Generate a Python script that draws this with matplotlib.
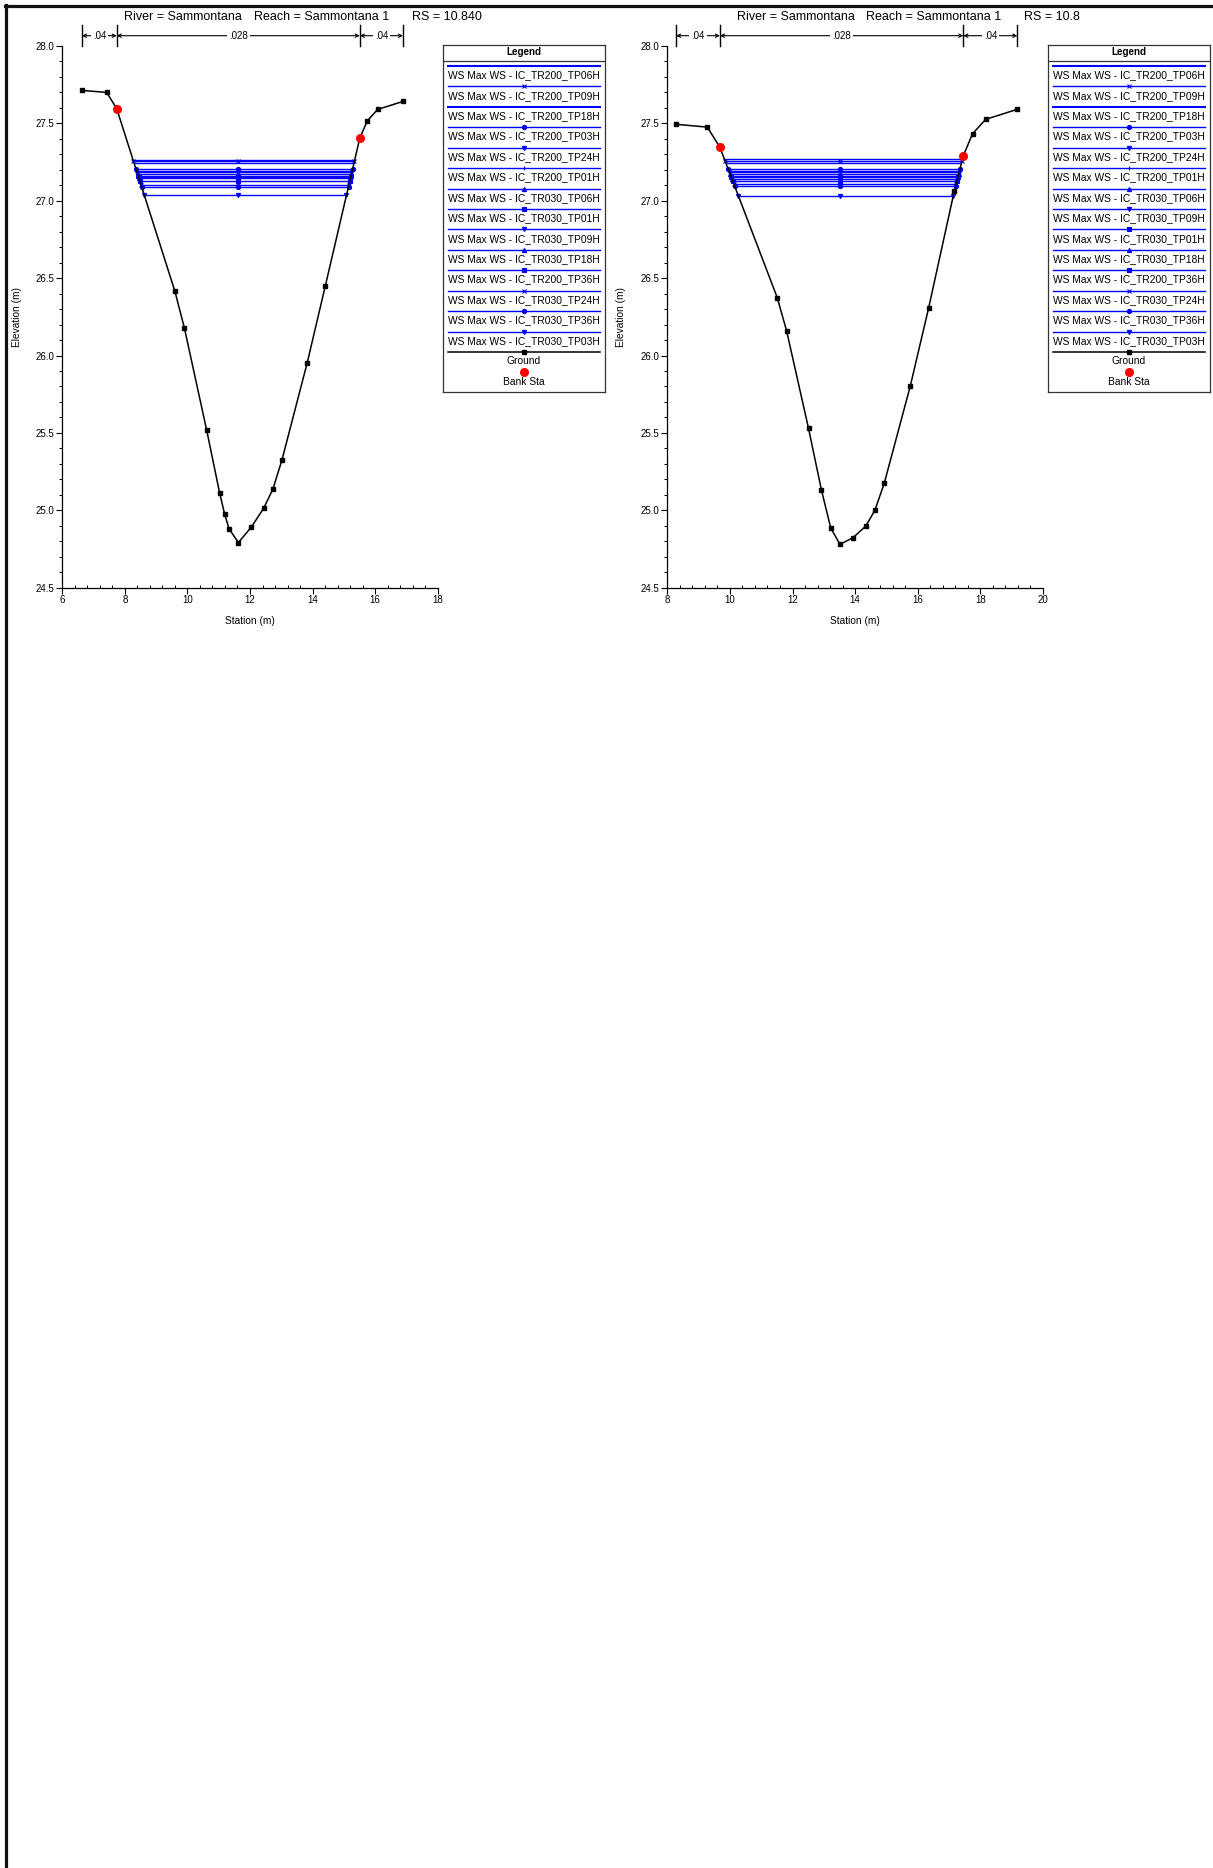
import numpy as np
import matplotlib
matplotlib.use("Agg")
import matplotlib.pyplot as plt
from matplotlib.lines import Line2D
from matplotlib.transforms import blended_transform_factory

plt.rcParams['font.family'] = ['Liberation Sans', 'DejaVu Sans']

W, H = 1213, 1868

# ---------------- data ----------------
river = "Sammontana"
reach = "Sammontana 1"

# Cross section RS = 10.840
rs_a = "10.840"
sta_a = [6.63, 7.42, 7.74, 9.60, 9.90, 10.615, 11.03, 11.19, 11.33, 11.63,
         12.04, 12.44, 12.735, 13.02, 13.83, 14.41, 15.51, 15.75, 16.08, 16.89]
elev_a = [27.713, 27.70, 27.595, 26.415, 26.18, 25.518, 25.111, 24.975, 24.88, 24.792,
          24.891, 25.014, 25.139, 25.324, 25.954, 26.452, 27.405, 27.517, 27.59, 27.642]
banks_a = [7.74, 15.51]
n_a = [".04", ".028", ".04"]
ws_names_a = ["IC_TR200_TP06H", "IC_TR200_TP09H", "IC_TR200_TP18H", "IC_TR200_TP03H",
              "IC_TR200_TP24H", "IC_TR200_TP01H", "IC_TR030_TP06H", "IC_TR030_TP01H",
              "IC_TR030_TP09H", "IC_TR030_TP18H", "IC_TR200_TP36H", "IC_TR030_TP24H",
              "IC_TR030_TP36H", "IC_TR030_TP03H"]
ws_a = [27.265, 27.255, 27.243, 27.205, 27.195, 27.185, 27.173, 27.163,
        27.153, 27.145, 27.130, 27.105, 27.092, 27.035]

# Cross section RS = 10.8
rs_b = "10.8"
sta_b = [8.28, 9.28, 9.68, 11.51, 11.81, 12.51, 12.92, 13.22, 13.515, 13.93,
         14.335, 14.63, 14.93, 15.76, 16.35, 17.167, 17.455, 17.75, 18.17, 19.18]
elev_b = [27.494, 27.476, 27.345, 26.375, 26.16, 25.53, 25.134, 24.886, 24.78, 24.823,
          24.897, 25.0, 25.175, 25.802, 26.31, 27.0625, 27.291, 27.433, 27.526, 27.591]
banks_b = [9.68, 17.455]
n_b = [".04", ".028", ".04"]
ws_names_b = ["IC_TR200_TP06H", "IC_TR200_TP09H", "IC_TR200_TP18H", "IC_TR200_TP03H",
              "IC_TR200_TP24H", "IC_TR200_TP01H", "IC_TR030_TP06H", "IC_TR030_TP09H",
              "IC_TR030_TP01H", "IC_TR030_TP18H", "IC_TR200_TP36H", "IC_TR030_TP24H",
              "IC_TR030_TP36H", "IC_TR030_TP03H"]
ws_b = [27.27, 27.258, 27.243, 27.205, 27.195, 27.183, 27.172, 27.162,
        27.152, 27.142, 27.13, 27.108, 27.095, 27.032]

# marker style per profile
markers = {"IC_TR200_TP06H": None, "IC_TR200_TP09H": "x", "IC_TR200_TP18H": None,
           "IC_TR200_TP03H": "o", "IC_TR200_TP24H": "v", "IC_TR200_TP01H": "|",
           "IC_TR030_TP06H": "^", "IC_TR030_TP01H": "s", "IC_TR030_TP09H": "v",
           "IC_TR030_TP18H": "^", "IC_TR200_TP36H": "s", "IC_TR030_TP24H": "x",
           "IC_TR030_TP36H": "o", "IC_TR030_TP03H": "v"}

BLUE = "#0000ff"

fig = plt.figure(figsize=(W / 100, H / 100), dpi=100)

# page border (left and top)
fig.add_artist(Line2D([5.5 / W, 5.5 / W], [0, 1 - 4.5 / H], color="#111111", lw=2.3))
fig.add_artist(Line2D([4.5 / W, 1.0], [1 - 5.5 / H, 1 - 5.5 / H], color="#111111", lw=2.3))


def px_rect(x0, y0, x1, y1):
    return [x0 / W, 1 - y1 / H, (x1 - x0) / W, (y1 - y0) / H]


def draw_xs(ax_px, leg_px, ylab_x, title_x, xlim, sta, elev, banks, nvals, names, wsv, rs):
    sta = np.asarray(sta, float)
    elev = np.asarray(elev, float)
    ax = fig.add_axes(px_rect(*ax_px))
    ax.set_xlim(*xlim)
    ax.set_ylim(24.5, 28.0)
    for s in ("top", "right"):
        ax.spines[s].set_visible(False)
    for s in ("left", "bottom"):
        ax.spines[s].set_linewidth(0.9)
    ax.xaxis.set_major_locator(plt.MultipleLocator(2))
    ax.xaxis.set_minor_locator(plt.MultipleLocator(0.4))
    ax.yaxis.set_major_locator(plt.MultipleLocator(0.5))
    ax.yaxis.set_minor_locator(plt.MultipleLocator(0.1))
    ax.yaxis.set_major_formatter(plt.FormatStrFormatter("%.1f"))
    ax.tick_params(axis="both", which="major", length=4, width=0.8, labelsize=7, pad=1.5)
    ax.tick_params(axis="x", which="minor", length=2.5, width=0.7, direction="in")
    ax.tick_params(axis="y", which="minor", length=2.5, width=0.7, direction="out")
    ax.set_xlabel("Station (m)", fontsize=7.3, labelpad=8)
    ax.set_ylabel("Elevation (m)", fontsize=7.3)
    ax.yaxis.set_label_coords((ylab_x - ax_px[0]) / (ax_px[2] - ax_px[0]), 0.5)

    imin = int(np.argmin(elev))
    ib = [int(np.argmin(np.abs(sta - b))) for b in banks]
    left_st, left_el = sta[ib[0]:imin + 1][::-1], elev[ib[0]:imin + 1][::-1]
    right_st, right_el = sta[imin:ib[1] + 1], elev[imin:ib[1] + 1]

    # water surfaces
    for name, w in zip(names, wsv):
        xl = np.interp(w, left_el, left_st)
        xr = np.interp(w, right_el, right_st)
        xs = [xl, sta[imin], xr]
        ax.plot(xs, [w, w, w], color=BLUE, lw=1.0, marker=markers[name],
                ms=3, mew=0.8, mfc=BLUE, mec=BLUE, zorder=3)

    # ground
    ax.plot(sta, elev, color="black", lw=1.1, marker="s", ms=3.2, zorder=4, clip_on=False)
    bank_el = np.interp(banks, sta, elev)
    ax.plot(banks, bank_el, ls="none", marker="o", ms=5.5, color="red", mec="red", zorder=5)

    # n values at top
    tr = blended_transform_factory(ax.transData, ax.transAxes)
    hgt = ax_px[3] - ax_px[1]
    yb0 = 1 + (ax_px[1] - 45.7) / hgt
    yb1 = 1 + (ax_px[1] - 25.0) / hgt
    ya = 1 + (ax_px[1] - 35.7) / hgt
    breaks = [sta[0], banks[0], banks[1], sta[-1]]
    for b in breaks:
        ax.plot([b, b], [yb0, yb1], color="black", lw=1.0, transform=tr, clip_on=False)
    for i, nv in enumerate(nvals):
        a, b = breaks[i], breaks[i + 1]
        ax.annotate("", xy=(b, ya), xytext=(a, ya), xycoords=tr, textcoords=tr,
                    arrowprops=dict(arrowstyle="<->", lw=0.8, color="black",
                                    shrinkA=0, shrinkB=0, mutation_scale=6),
                    annotation_clip=False)
        ax.text((a + b) / 2, ya, nv, transform=tr, ha="center", va="center", fontsize=7,
                bbox=dict(facecolor="white", edgecolor="none", pad=1.5), clip_on=False)

    # title
    ty = 1 - 16.7 / H
    fig.text(title_x[0] / W, ty, "River = " + river, fontsize=9, va="center", ha="left")
    fig.text(title_x[1] / W, ty, "Reach = " + reach, fontsize=9, va="center", ha="left")
    fig.text(title_x[2] / W, ty, "RS = " + rs, fontsize=9, va="center", ha="left")

    # legend box
    lx0, ly0, lx1, ly1 = leg_px
    lw_, lh_ = lx1 - lx0, ly1 - ly0
    lax = fig.add_axes(px_rect(*leg_px))
    lax.set_xlim(0, lw_)
    lax.set_ylim(lh_, 0)
    lax.set_xticks([])
    lax.set_yticks([])
    for s in lax.spines.values():
        s.set_linewidth(0.9)
        s.set_color("#333333")
    cx = lw_ / 2
    lax.text(cx, 6.7, "Legend", ha="center", va="center", fontsize=7.1, fontweight="bold")
    lax.plot([0, lw_], [15.7, 15.7], color="#333333", lw=0.9)
    step = 20.43
    for i, name in enumerate(names):
        y = 21 + i * step
        lw_line = 1.5 if markers[name] is None else 1.0
        lax.plot([5.6, lw_ - 4.7], [y, y], color=BLUE, lw=lw_line)
        if markers[name] is not None:
            lax.plot([cx], [y], marker=markers[name], ms=3, mew=0.8, color=BLUE)
        lax.text(cx, y + 9.3, "WS Max WS - " + name, ha="center", va="center", fontsize=7.35)
    yg = 21 + len(names) * step
    lax.plot([5.6, lw_ - 4.7], [yg, yg], color="black", lw=1.1)
    lax.plot([cx], [yg], marker="s", ms=3.2, color="black")
    lax.text(cx, yg + 8.7, "Ground", ha="center", va="center", fontsize=7.35)
    lax.plot([cx], [yg + 20], marker="o", ms=5.5, color="red", ls="none")
    lax.text(cx, yg + 29.7, "Bank Sta", ha="center", va="center", fontsize=7.35)


draw_xs((62.3, 46, 437.7, 587.7), (442.7, 45, 604.7, 392.3), 22.0,
        (124.3, 254.3, 412.3), (6, 18), sta_a, elev_a, banks_a, n_a, ws_names_a, ws_a, rs_a)
draw_xs((667.3, 46, 1043, 587.7), (1047.7, 45, 1210, 392.3), 626.0,
        (736.7, 866.5, 1024.5), (8, 20), sta_b, elev_b, banks_b, n_b, ws_names_b, ws_b, rs_b)

fig.savefig("out.png", dpi=100)
